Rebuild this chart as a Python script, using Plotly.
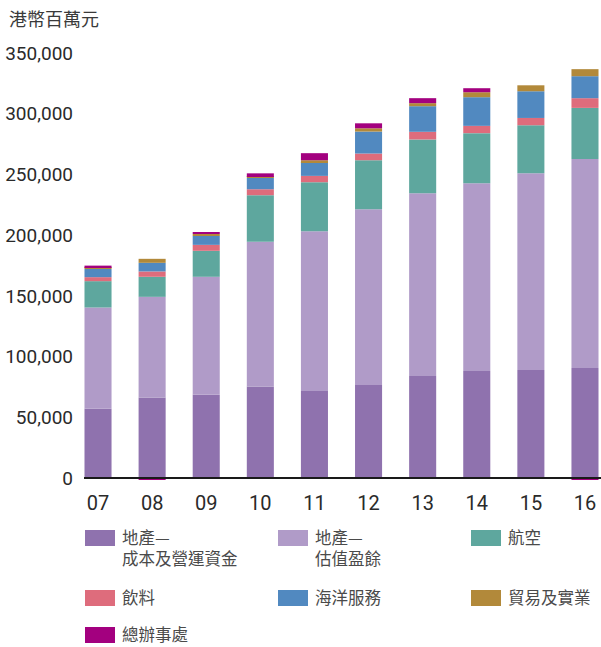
import plotly.graph_objects as go

years = ["07", "08", "09", "10", "11", "12", "13", "14", "15", "16"]
prop_cost = [57000, 66300, 68600, 75400, 71600, 76500, 84000, 88100, 88900, 90500]
prop_reval = [83400, 82900, 97100, 119100, 131700, 144900, 150600, 154700, 162100, 172300]
aviation = [21700, 16500, 21400, 38400, 40300, 40300, 44200, 41200, 39500, 42000]
beverages = [3300, 4400, 4900, 4900, 5200, 5500, 6300, 6000, 6000, 8000]
marine = [6800, 7100, 7400, 9300, 11300, 18100, 21100, 23600, 22000, 18100]
trading = [1400, 3300, 1600, 800, 1600, 2700, 2500, 4100, 4900, 5800]
head_office = [1300, -1500, 800, 3000, 5800, 4100, 4100, 3300, 0, -1000]

series_names = ["地產—<br>成本及營運資金", "地產—<br>估值盈餘", "航空", "飲料", "海洋服務", "貿易及實業", "總辦事處"]
series_values = [prop_cost, prop_reval, aviation, beverages, marine, trading, head_office]
colors = ["#8f72ae", "#b09bc8", "#5ea79e", "#de6c7c", "#5189c0", "#b2893a", "#a3007f"]

y_ticks = [0, 50000, 100000, 150000, 200000, 250000, 300000, 350000]
y_tick_text = ["0", "50,000", "100,000", "150,000", "200,000", "250,000", "300,000", "350,000"]
unit_label = "港幣百萬元"

W, H = 601, 647
L, R, T, B = 84, 0, 51, 164
PW, PH = W - L - R, H - T - B

def px(x):
    return (x - L) / PW

def py(y):
    return (H - B - y) / PH

fig = go.Figure()
for name, vals, col in zip(series_names, series_values, colors):
    fig.add_trace(go.Bar(x=years, y=vals, name=name.replace("<br>", ""),
                         marker=dict(color=col, line=dict(width=0)), showlegend=False))

cjk = "Noto Sans CJK TC"
num_font = "Roboto"

# baseline
fig.add_shape(type="line", xref="paper", yref="y", x0=0, x1=1, y0=0, y1=0,
              line=dict(color="#1a1a1a", width=2), layer="above")

# unit label
fig.add_annotation(text=unit_label, xref="paper", yref="paper", x=px(7), y=py(18),
                   xanchor="left", yanchor="middle", showarrow=False,
                   font=dict(family=cjk, size=18, color="#3a3a3a"))

# manual legend
leg_cols = [85, 278, 471]
leg_rows = [538, 598, 635]
for i, (name, col) in enumerate(zip(series_names, colors)):
    cx = leg_cols[i % 3]
    cy = leg_rows[i // 3]
    fig.add_shape(type="rect", xref="paper", yref="paper",
                  x0=px(cx), x1=px(cx + 30), y0=py(cy - 8), y1=py(cy + 8),
                  fillcolor=col, line=dict(width=0))
    for j, line in enumerate(name.split("<br>")):
        fig.add_annotation(text=line, xref="paper", yref="paper", x=px(cx + 36), y=py(cy - 1 + 21 * j),
                           xanchor="left", yanchor="middle", align="left", showarrow=False,
                           borderpad=0,
                           font=dict(family=cjk, size=16.5, color="#4a4a4a"))

fig.update_layout(
    width=W, height=H,
    margin=dict(l=L, r=R, t=T, b=B),
    barmode="relative", bargap=0.5,
    plot_bgcolor="white", paper_bgcolor="white",
    xaxis=dict(range=[-0.259, 9.296], showgrid=False, showline=False, zeroline=False,
               ticks="", tickfont=dict(family=num_font, size=20, color="#2a2a2a"),
               ticklabelstandoff=6),
    yaxis=dict(range=[-4118, 351647], showgrid=False, showline=False, zeroline=False,
               tickvals=y_ticks, ticktext=y_tick_text, ticks="",
               tickfont=dict(family=num_font, size=19, color="#2a2a2a"),
               ticklabelstandoff=10),
)

fig.write_html("out.html", config={"displayModeBar": False},
               post_script="document.body.style.margin='0';document.body.style.overflow='hidden';")
